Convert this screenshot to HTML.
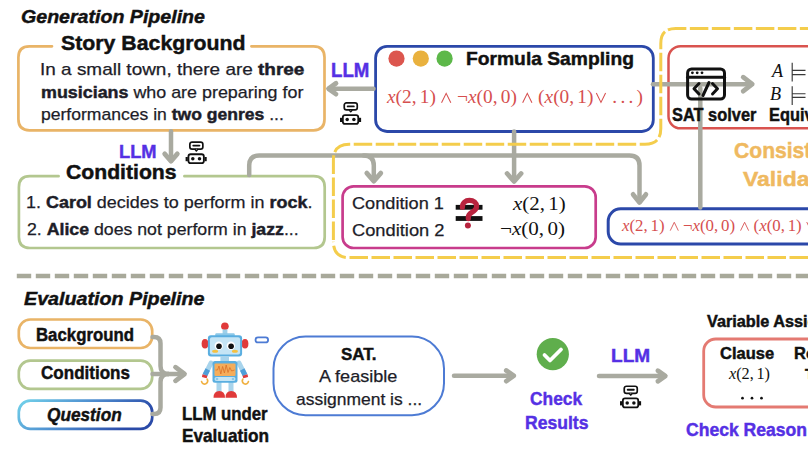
<!DOCTYPE html><html><head><meta charset="utf-8"><style>
*{margin:0;padding:0;box-sizing:border-box}
html,body{width:808px;height:455px;overflow:hidden;background:#fff}
body{position:relative;font-family:"Liberation Sans",sans-serif;color:#111}
body>svg{position:absolute;left:0;top:0}
.t{position:absolute;white-space:nowrap;line-height:1;transform-origin:0 0;color:#111;-webkit-text-stroke:0.25px currentColor}
.t b,.t.b{-webkit-text-stroke:0.45px currentColor}
.b{font-weight:bold}
.i{font-style:italic}
.m{font-family:"Liberation Serif",serif;-webkit-text-stroke:0}
.op{display:inline-block;width:0.6em;height:0.54em;margin:0 0.25em;overflow:visible;fill:none;stroke:currentColor;stroke-width:0.9}
.th{display:inline-block;width:0.1667em}
</style></head><body>
<svg width="808" height="455" viewBox="0 0 808 455">
<defs>
<linearGradient id="qg" x1="0" y1="0" x2="1" y2="0.3">
<stop offset="0" stop-color="#72d2ea"/><stop offset="0.5" stop-color="#4f8fd0"/><stop offset="1" stop-color="#2a4aa8"/>
</linearGradient>
</defs>
<g fill="none" stroke-linecap="round" stroke-linejoin="round">
<!-- story box -->
<path d="M52,46.3 H29.4 Q18.4,46.3 18.4,57.3 V119.3 Q18.4,130.3 29.4,130.3 H313.5 Q324.5,130.3 324.5,119.3 V57.3 Q324.5,46.3 313.5,46.3 H251.4" stroke="#e9b467" stroke-width="2.7"/>
<!-- conditions box -->
<path d="M58.6,176.2 H29.9 Q18.9,176.2 18.9,187.2 V237 Q18.9,248 29.9,248 H313.7 Q324.7,248 324.7,237 V187.2 Q324.7,176.2 313.7,176.2 H184.4" stroke="#b3c78f" stroke-width="2.7"/>
<!-- formula box -->
<rect x="375.6" y="46.4" width="277.7" height="85.1" rx="11.5" stroke="#2b48a9" stroke-width="2.8"/>
<!-- red box -->
<rect x="668.5" y="46.2" width="200" height="82.1" rx="12" stroke="#d9534f" stroke-width="2.5"/>
<!-- pink box -->
<rect x="342.6" y="186.3" width="253.1" height="61.7" rx="11" stroke="#c83c8c" stroke-width="2.7"/>
<!-- blue bottom box -->
<rect x="608.2" y="208.8" width="260" height="35.2" rx="12.5" stroke="#2b48a9" stroke-width="3"/>
<!-- gray arrows generation -->
<g stroke="#a9aaa0" stroke-width="4.5">
<path d="M373.5,88.7 H329"/><path d="M336,83.3 L328.5,88.7 L336,94.1" stroke-width="4.8"/>
<path d="M653,84.2 H751"/><path d="M743.2,77.2 L752.2,84.2 L743.2,91.2" stroke-width="4.8"/>
<path d="M700.3,88 V207.5"/>
<path d="M171,131.3 V160"/><path d="M164.7,153.9 L171,161.2 L177.3,153.9" stroke-width="4.8"/>
<path d="M249.2,175 V165.5 Q249.2,155.5 259.2,155.5 H629.5 Q639.5,155.5 639.5,165.5 V201"/><path d="M633.1,194.4 L639.5,202.4 L645.9,194.4" stroke-width="4.8"/>
<path d="M363.8,155.5 Q373.8,155.5 373.8,165.5 V180"/><path d="M366.8,173.1 L373.8,181.1 L380.8,173.1" stroke-width="4.8"/>
<path d="M514.1,131.5 V180"/><path d="M507.1,173.5 L514.1,181.5 L521.1,173.5" stroke-width="4.8"/>
</g>
<!-- yellow dashed combined -->
<path d="M333.4,240 V160 Q333.4,144.2 349.2,144.2 H645 Q660.8,144.2 660.8,128.4 V43.4 Q660.8,28.4 675.8,28.4 H830 M830,257.6 H349.2 Q333.4,257.6 333.4,241.8" stroke="#f4cd4c" stroke-width="3" stroke-dasharray="18.5 3.5" stroke-linecap="butt"/>
<!-- separator -->
<path d="M16.8,276.1 H808" stroke="#a8a99a" stroke-width="4.5" stroke-dasharray="14.4 4.6" stroke-linecap="butt"/>
<!-- evaluation pills -->
<rect x="18.8" y="319.5" width="133.4" height="28.5" rx="11.5" stroke="#e9b467" stroke-width="2.7"/>
<rect x="18.8" y="360.6" width="133.4" height="28.2" rx="11.5" stroke="#b3c78f" stroke-width="2.7"/>
<rect x="18.8" y="400.6" width="133.4" height="28.3" rx="11.5" stroke="url(#qg)" stroke-width="2.7"/>
<g stroke="#a9aaa0" stroke-width="4.5">
<path d="M152.5,337 H154 Q160.5,337 160.5,343.5 V366 Q160.5,374 168.5,374"/>
<path d="M152.5,414 H154 Q160.5,414 160.5,407.5 V382 Q160.5,374 168.5,374"/>
<path d="M152.5,374 H183.5"/><path d="M175.5,367.2 L184.5,374 L175.5,380.8" stroke-width="4.8"/>
<path d="M454,375.8 H512.5"/><path d="M506.3,370.5 L513.7,375.8 L506.3,381.1" stroke-width="4.8"/>
<path d="M599,376 H664"/><path d="M657.9,370.7 L665.3,376 L657.9,381.3" stroke-width="4.8"/>
</g>
<!-- SAT bubble -->
<rect x="273.5" y="336.6" width="170.5" height="78.6" rx="32" stroke="#4d7bd4" stroke-width="2"/>
<rect x="255.5" y="337.4" width="12.6" height="5" rx="2.5" stroke="#4d7bd4" stroke-width="1.8"/>
<!-- salmon box -->
<rect x="703.7" y="339" width="200" height="68" rx="12" stroke="#e47a72" stroke-width="2.8"/>
</g>
<!-- check circle -->
<circle cx="552.8" cy="354.2" r="16.1" fill="#5fae4c"/>
<path d="M544.5,355 L550,360.5 L561,349.5" fill="none" stroke="#fff" stroke-width="3.8" stroke-linecap="round" stroke-linejoin="round"/>
<!-- dots -->
<circle cx="396.5" cy="58.6" r="8.1" fill="#dc564e"/>
<circle cx="420.8" cy="58.6" r="8.1" fill="#e9b13e"/>
<circle cx="444.6" cy="58.6" r="8.1" fill="#5db84a"/>
<!-- SAT icon -->
<g fill="none" stroke="#111" stroke-width="3" stroke-linecap="round" stroke-linejoin="round">
<rect x="687.6" y="68.9" width="36.9" height="30.1" rx="4"/>
<path d="M687.6,77.3 H724.5"/>
<path d="M699,83.5 L694,88.7 L699,94"/><path d="M712.5,83.5 L717.5,88.7 L712.5,94"/><path d="M709,82.5 L703,95.5"/>
</g>
<g fill="#111"><circle cx="692.4" cy="72.8" r="1.4"/><circle cx="697.2" cy="72.8" r="1.4"/><circle cx="702" cy="72.8" r="1.4"/></g>
<!-- equals with ? -->
<rect x="455.7" y="204.9" width="26.8" height="4.8" fill="#111"/>
<rect x="455.7" y="216.1" width="26.8" height="4.8" fill="#111"/>
</svg>

<div class="t b i" id="gen" style="left:21.30px;top:6.84px;font-size:19.13px;transform:scaleX(1.0250);">Generation Pipeline</div>
<div class="t b" id="story" style="left:60.50px;top:32.04px;font-size:21.01px;transform:scaleX(1.0138);">Story Background</div>
<div class="t " id="l1" style="left:40.07px;top:62.11px;font-size:16.81px;transform:scaleX(1.1283);color:#1d1d28">In a small town, there are <b>three</b></div>
<div class="t " id="l2" style="left:41.20px;top:84.51px;font-size:16.81px;transform:scaleX(1.0644);color:#1d1d28"><b>musicians</b> who are preparing for</div>
<div class="t " id="l3" style="left:41.20px;top:107.31px;font-size:16.81px;transform:scaleX(1.0444);color:#1d1d28">performances in <b>two genres</b> ...</div>
<div class="t b" id="llm1" style="left:331.17px;top:59.90px;font-size:20.00px;transform:scaleX(0.9333);color:#5530e4">LLM</div>
<div class="t b" id="fs" style="left:465.89px;top:48.94px;font-size:19.13px;transform:scaleX(1.0073);">Formula Sampling</div>
<div class="t b" id="sat" style="left:672.10px;top:107.37px;font-size:17.68px;transform:scaleX(0.9272);">SAT solver</div>
<div class="t b" id="equiv" style="left:769.40px;top:107.37px;font-size:17.68px;transform:scaleX(0.9272);">Equivalence</div>
<div class="t b" id="cons" style="left:733.50px;top:141.07px;font-size:21.45px;transform:scaleX(0.9843);color:#efb960">Consistency</div>
<div class="t b" id="vali" style="left:743.20px;top:167.94px;font-size:21.01px;transform:scaleX(1.0951);color:#efb960">Validation</div>
<div class="t b" id="llm2" style="left:118.83px;top:142.69px;font-size:18.84px;transform:scaleX(0.9703);color:#5530e4">LLM</div>
<div class="t b" id="cond" style="left:66.10px;top:163.22px;font-size:19.86px;transform:scaleX(1.0663);">Conditions</div>
<div class="t " id="c1" style="left:25.73px;top:195.31px;font-size:16.81px;transform:scaleX(1.0688);color:#1d1d28">1. <b>Carol</b> decides to perform in <b>rock</b>.</div>
<div class="t " id="c2" style="left:26.80px;top:220.74px;font-size:17.25px;transform:scaleX(1.0265);color:#1d1d28">2. <b>Alice</b> does not perform in <b>jazz</b>...</div>
<div class="t " id="cd1" style="left:351.50px;top:195.38px;font-size:16.38px;transform:scaleX(1.1108);color:#1d1d28">Condition 1</div>
<div class="t " id="cd2" style="left:351.50px;top:222.53px;font-size:16.67px;transform:scaleX(1.0976);color:#1d1d28">Condition 2</div>
<div class="t b i" id="evp" style="left:24.40px;top:290.41px;font-size:18.70px;transform:scaleX(1.0535);">Evaluation Pipeline</div>
<div class="t b" id="bg" style="left:36.10px;top:326.65px;font-size:17.83px;transform:scaleX(0.9417);">Background</div>
<div class="t b" id="co" style="left:40.80px;top:364.06px;font-size:18.41px;transform:scaleX(0.9260);">Conditions</div>
<div class="t b i" id="qu" style="left:47.20px;top:406.48px;font-size:18.26px;transform:scaleX(0.9443);">Question</div>
<div class="t b" id="lu" style="left:181.80px;top:406.29px;font-size:17.54px;transform:scaleX(0.9556);">LLM under</div>
<div class="t b" id="ev" style="left:181.80px;top:428.42px;font-size:17.97px;transform:scaleX(0.9578);">Evaluation</div>
<div class="t b" id="satd" style="left:340.60px;top:346.71px;font-size:16.81px;transform:scaleX(1.0057);">SAT.</div>
<div class="t " id="fea" style="left:319.10px;top:368.38px;font-size:16.38px;transform:scaleX(1.1042);color:#1d1d28">A feasible</div>
<div class="t " id="asg" style="left:295.50px;top:391.28px;font-size:16.38px;transform:scaleX(1.0667);color:#1d1d28">assignment is ...</div>
<div class="t b" id="chk" style="left:530.00px;top:390.21px;font-size:18.70px;transform:scaleX(0.9298);color:#5530e4">Check</div>
<div class="t b" id="res" style="left:524.85px;top:414.46px;font-size:18.41px;transform:scaleX(0.9538);color:#5530e4">Results</div>
<div class="t b" id="llm3" style="left:610.80px;top:345.56px;font-size:18.99px;transform:scaleX(1.0027);color:#5530e4">LLM</div>
<div class="t b" id="va" style="left:706.84px;top:313.70px;font-size:15.65px;transform:scaleX(1.0393);">Variable Assignment</div>
<div class="t b" id="cl" style="left:719.90px;top:345.40px;font-size:16.23px;transform:scaleX(1.0170);">Clause</div>
<div class="t b" id="re" style="left:793.80px;top:345.40px;font-size:16.23px;transform:scaleX(1.0170);">Result</div>
<div class="t b" id="tt" style="left:805.32px;top:367.38px;font-size:14.49px;transform:scaleX(1.0170);">True</div>
<div class="t b" id="cr" style="left:686.00px;top:420.66px;font-size:18.41px;transform:scaleX(0.9540);color:#5530e4">Check Reason</div>
<div class="t m" id="m1" style="left:387.17px;top:88.09px;font-size:18.12px;transform:scaleX(1.0675);color:#d64f4f"><i>x</i>(2,<span class="th"></span>1)<svg class="op" viewBox="0 0 10 9"><path d="M1,9 L5,0.3 L9,9"/></svg>¬<i>x</i>(0,<span class="th"></span>0)<svg class="op" viewBox="0 0 10 9"><path d="M1,9 L5,0.3 L9,9"/></svg>(<i>x</i>(0,<span class="th"></span>1)<svg class="op" style="margin-left:0.08em;margin-right:0.3em" viewBox="0 0 10 9"><path d="M1,0 L5,8.7 L9,0"/></svg>.<span class="th"></span>.<span class="th"></span>.<span class="th"></span>)</div>
<div class="t m" id="m2" style="left:512.63px;top:195.06px;font-size:18.51px;transform:scaleX(1.1277);color:#111"><i>x</i>(2,<span class="th"></span>1)</div>
<div class="t m" id="m3" style="left:500.30px;top:218.62px;font-size:19.11px;transform:scaleX(1.1017);color:#111">¬<i>x</i>(0,<span class="th"></span>0)</div>
<div class="t m" id="m4" style="left:622.35px;top:218.04px;font-size:16.04px;transform:scaleX(1.0497);color:#d64f4f"><i>x</i>(2,<span class="th"></span>1)<svg class="op" viewBox="0 0 10 9"><path d="M1,9 L5,0.3 L9,9"/></svg>¬<i>x</i>(0,<span class="th"></span>0)<svg class="op" viewBox="0 0 10 9"><path d="M1,9 L5,0.3 L9,9"/></svg>(<i>x</i>(0,<span class="th"></span>1)<svg class="op" viewBox="0 0 10 9"><path d="M1,0 L5,8.7 L9,0"/></svg>.<span class="th"></span>.<span class="th"></span>.</div>
<div class="t m" id="m5" style="left:729.19px;top:365.92px;font-size:16.34px;transform:scaleX(0.9929);color:#111"><i>x</i>(2,<span class="th"></span>1)</div>
<div class="t m" id="ma" style="left:771.90px;top:61.47px;font-size:18.99px;transform:scaleX(0.9545);color:#111"><i>A</i></div>
<div class="t m" id="mb" style="left:770.20px;top:83.85px;font-size:19.50px;transform:scaleX(0.9300);color:#111"><i>B</i></div>
<svg width="808" height="455" viewBox="0 0 808 455">
<defs>
<g id="bot">
<rect x="4.45" y="0.85" width="13" height="7.1" rx="2.2" fill="#fff" stroke="#111" stroke-width="1.7"/>
<path d="M9.4,7.9 L10.95,9.7 L12.5,7.9" fill="#fff" stroke="#111" stroke-width="1.5" stroke-linejoin="round"/>
<path d="M7.9,4.4 H14" stroke="#111" stroke-width="1.9" stroke-linecap="round"/>
<rect x="0.2" y="15.8" width="2.2" height="4.2" fill="#111"/>
<rect x="19.1" y="15.8" width="2.2" height="4.2" fill="#111"/>
<rect x="3.05" y="13.05" width="15.4" height="8.9" rx="2.2" fill="#fff" stroke="#111" stroke-width="1.8"/>
<circle cx="7.4" cy="17.6" r="1.75" fill="#111"/>
<circle cx="14.1" cy="17.6" r="1.75" fill="#111"/>
</g>
</defs>
<use href="#bot" x="339.8" y="102"/>
<use href="#bot" x="185.4" y="141.2"/>
<use href="#bot" x="619.8" y="385.4"/>
<!-- question mark -->
<path d="M462.4,207.2 C462.4,202.6 465.6,200.4 469.4,200.4 C473.6,200.4 476.6,203 476.6,206.3 C476.6,209.6 474.1,211.1 471.6,212.6 C469.4,213.9 468.3,215.3 468.3,217.6 V218.6" fill="none" stroke="#b8233e" stroke-width="5.2" stroke-linecap="round" stroke-linejoin="round"/>
<circle cx="467.9" cy="225.6" r="3" fill="#b8233e"/>
<!-- models symbols -->
<g stroke="#3a3a3a" stroke-width="1.15" fill="none">
<path d="M792.2,62.7 V81.4 M792.2,70.4 H805.5 M792.2,74.6 H805.5"/>
<path d="M792.2,86.3 V105 M792.2,93.7 H805.5 M792.2,97.3 H805.5"/>
</g>
<!-- table dots -->
<g fill="#111"><circle cx="742.5" cy="398.2" r="1.35"/><circle cx="752" cy="398.2" r="1.35"/><circle cx="761.5" cy="398.2" r="1.35"/></g>
<!-- colorful robot -->
<g>
<circle cx="224.9" cy="326.3" r="3.8" fill="#e03a3a"/>
<rect x="222.6" y="329.5" width="4.8" height="4.5" fill="#9dd0ea"/>
<rect x="215.3" y="333.3" width="19.4" height="3.4" rx="1" fill="#8cc8e8"/>
<ellipse cx="205" cy="343.8" rx="3.4" ry="4.7" fill="#e03a3a"/>
<ellipse cx="245" cy="343.8" rx="3.4" ry="4.7" fill="#e03a3a"/>
<rect x="207.9" y="335.3" width="34.2" height="21.1" rx="3" fill="#5aaee0"/>
<rect x="209.9" y="337.3" width="30.2" height="17.1" rx="2" fill="#c5e5f5"/>
<circle cx="218.8" cy="345.8" r="4.2" fill="#fff"/>
<circle cx="230.9" cy="345.8" r="4.2" fill="#fff"/>
<circle cx="219" cy="346.3" r="2.8" fill="#111"/>
<circle cx="231.1" cy="346.3" r="2.8" fill="#111"/>
<ellipse cx="215.1" cy="351.2" rx="3" ry="1.5" fill="#f5c040"/>
<ellipse cx="234.9" cy="351.2" rx="3" ry="1.5" fill="#f5c040"/>
<rect x="220.4" y="356" width="8.6" height="5.5" fill="#a8d4ec"/>
<path d="M211,363 L205,375" stroke="#a8d4ec" stroke-width="5" stroke-linecap="round"/>
<path d="M239,363 L245,375" stroke="#a8d4ec" stroke-width="5" stroke-linecap="round"/>
<path d="M207.8,369.5 L205,375" stroke="#4f9ed8" stroke-width="5"/>
<path d="M242.2,369.5 L245,375" stroke="#4f9ed8" stroke-width="5"/>
<path d="M205,375 L204.3,377.6" stroke="#e03a3a" stroke-width="5"/>
<path d="M245,375 L245.7,377.6" stroke="#e03a3a" stroke-width="5"/>
<path d="M207.2,379.2 A3.1,3.1 0 1 1 201.6,381.6" fill="none" stroke="#f0b040" stroke-width="1.7" stroke-linecap="round"/>
<path d="M242.8,379.2 A3.1,3.1 0 1 0 248.4,381.6" fill="none" stroke="#f0b040" stroke-width="1.7" stroke-linecap="round"/>
<rect x="216.5" y="382" width="5" height="10" fill="#a8d4ec"/>
<rect x="228.5" y="382" width="5" height="10" fill="#a8d4ec"/>
<rect x="212.5" y="361" width="25" height="21.7" rx="2.5" fill="#5aaee0"/>
<rect x="214.5" y="363.4" width="21" height="12.7" rx="1" fill="#f5ad5a"/>
<path d="M215.5,370 L217.5,370 L219,366 L220.8,374 L222.6,366.5 L224.4,373 L226.2,365 L228,372.5 L229.8,367.5 L231.6,371 L234.5,370" fill="none" stroke="#d9702a" stroke-width="0.8"/>
<rect x="214.5" y="377" width="21" height="4" rx="2" fill="#c5e5f5"/>
<circle cx="217" cy="379" r="1.3" fill="#8cc8e8"/><circle cx="233" cy="379" r="1.3" fill="#8cc8e8"/>
<path d="M213.5,397.8 Q213.5,391 219.3,391 Q225,391 225,397.8 Z" fill="#e03a3a"/>
<path d="M225.5,397.8 Q225.5,391 231.2,391 Q237,391 237,397.8 Z" fill="#e03a3a"/>
</g>
</svg>

</body></html>
